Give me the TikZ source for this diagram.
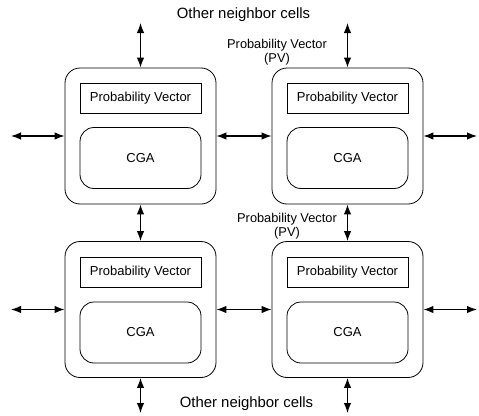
\documentclass[tikz,border=0pt]{standalone}
\usepackage{fontspec}
\setmainfont{Liberation Sans}
\usetikzlibrary{arrows.meta}
\usetikzlibrary{arrows}

\begin{document}
\begin{tikzpicture}[x=1pt, y=-1pt]
    \tikzstyle{cell} = [draw, rectangle, rounded corners=15pt, minimum width=151pt, minimum height=136pt, line width=0.8pt, inner sep=0pt];
    \tikzstyle{pv} = [draw, rectangle, minimum width=121pt, minimum height=30pt, line width=0.8pt, inner sep=0pt, style={font=\fontsize{13}{15}\selectfont}];
    \tikzstyle{cga} = [draw, rectangle, rounded corners=14pt, minimum width=121pt, minimum height=61pt, line width=0.8pt, inner sep=0pt, style={font=\fontsize{13}{15}\selectfont}];
    \tikzstyle{lbl} = [align=center, inner sep=0pt, font=\fontsize{12.8}{14.5}\selectfont];
    \tikzstyle{line} = [draw, {Latex[length=10pt,width=7.5pt]}-{Latex[length=10pt,width=7.5pt]}, line width=1.3pt];
    \useasboundingbox (0,0) rectangle (479,415);
    % cells
    \node[cell] (cellA) at (140.5,136) {};
    \node[pv] (pvA) at (140.5,98) {Probability Vector};
    \node[cga] (cgaA) at (140.5,158) {CGA};
    \node[cell] (cellB) at (347.5,136) {};
    \node[pv] (pvB) at (347.5,98) {Probability Vector};
    \node[cga] (cgaB) at (347.5,158) {CGA};
    \node[cell] (cellC) at (140.5,309.5) {};
    \node[pv] (pvC) at (140.5,272) {Probability Vector};
    \node[cga] (cgaC) at (140.5,332.5) {CGA};
    \node[cell] (cellD) at (347.5,309.5) {};
    \node[pv] (pvD) at (347.5,272) {Probability Vector};
    \node[cga] (cgaD) at (347.5,332.5) {CGA};
    % texts
    \node[inner sep=0pt, font=\fontsize{14.9}{17}\selectfont] (topcells) at (243.5,15) {Other neighbor cells};
    \node[inner sep=0pt, font=\fontsize{14.9}{17}\selectfont] (botcells) at (246.5,404) {Other neighbor cells};
    \node[lbl] (pvtop) at (277,52) {Probability Vector\\(PV)};
    \node[lbl] (pvmid) at (287,226) {Probability Vector\\(PV)};
    % free ends
    \coordinate (nA) at (140.5,23);
    \coordinate (nB) at (347.5,23);
    \coordinate (sC) at (140.5,413);
    \coordinate (sD) at (347.5,413);
    \coordinate (wA) at (11,136);
    \coordinate (wC) at (11,309.5);
    \coordinate (eB) at (477,136);
    \coordinate (eD) at (477,309.5);
    \tikzstyle{every path}=[line]
    \path (nA) -- (cellA.north);
    \path (nB) -- (cellB.north);
    \path (cellA.south) -- (cellC.north);
    \path (cellB.south) -- (cellD.north);
    \path (cellC.south) -- (sC);
    \path (cellD.south) -- (sD);
    \path (wA) -- (cellA.west);
    \path (wC) -- (cellC.west);
    \path (cellA.east) -- (cellB.west);
    \path (cellC.east) -- (cellD.west);
    \path (cellB.east) -- (eB);
    \path (cellD.east) -- (eD);
\end{tikzpicture}
\end{document}
